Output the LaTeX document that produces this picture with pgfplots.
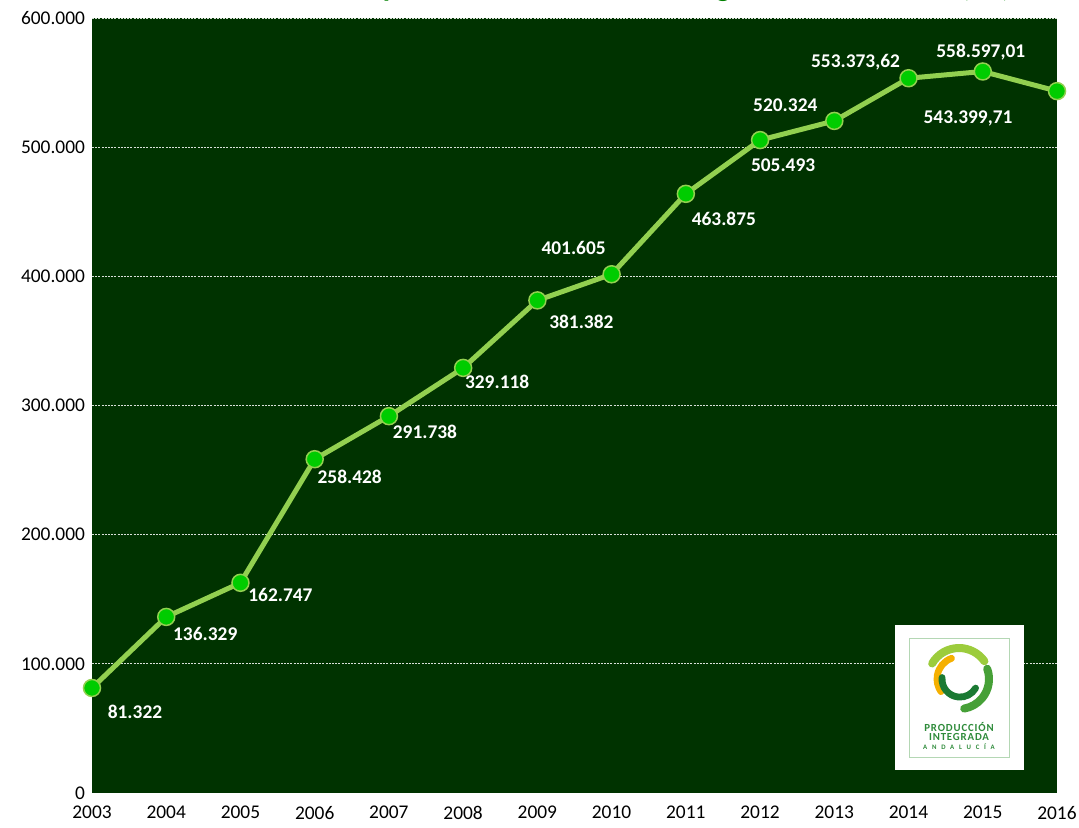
\documentclass[border=0pt]{standalone}
\usepackage{fontspec}
\setmainfont{Carlito}
\usepackage{pgfplots}
\pgfplotsset{compat=1.18}
\usepackage{pgfplotstable}
\definecolor{bg}{RGB}{0,51,0}
\definecolor{linegreen}{RGB}{146,208,80}
\definecolor{markgreen}{RGB}{0,204,0}
\definecolor{titlegreen}{RGB}{0,128,0}
\definecolor{logoyellow}{RGB}{245,176,0}
\definecolor{logolight}{RGB}{156,204,60}
\definecolor{logomid}{RGB}{70,160,55}
\definecolor{logodark}{RGB}{27,122,51}
\definecolor{logotext}{RGB}{46,139,58}
\definecolor{logoframe}{RGB}{180,215,180}

\pgfplotstableread{
year value label dx dy
2003 81322 81.322 21.5 -12
2004 136329 136.329 19.5 -8.5
2005 162747 162.747 20 -6
2006 258428 258.428 17.5 -9
2007 291738 291.738 18 -8
2008 329118 329.118 17 -7
2009 381382 381.382 22 -10.5
2010 401605 401.605 -19 13
2011 463875 463.875 19 -12.5
2012 505493 505.493 11.5 -12.5
2013 520324 520.324 -24.5 8
2014 553373.62 553.373,62 -26.5 8
2015 558597.01 558.597,01 -1 9.5
2016 543399.71 543.399,71 -44.5 -13.5
}\datatable

\begin{document}
\begin{tikzpicture}
\begin{axis}[
  at={(0,0)}, anchor=south west,
  scale only axis,
  width=482.5pt, height=387.5pt,
  xmin=2003, xmax=2016,
  ymin=0, ymax=600000,
  xtick={2003,...,2016},
  ytick={0,100000,...,600000},
  scaled y ticks=false,
  clip=false,
  axis background/.style={fill=bg},
  axis line style={draw=none},
  major tick length=0pt,
  ymajorgrids,
  major grid style={white, opacity=0.85, line width=0.35pt, dash pattern=on 1pt off 0.6pt},
  tick label style={font=\fontsize{9.7}{11}\selectfont, text=black},
  /pgf/number format/assume math mode=true,
  yticklabel style={/pgf/number format/.cd, fixed, 1000 sep={.}},
  xticklabel style={yshift=-3pt, /pgf/number format/.cd, 1000 sep={}},
]
\addplot[
  color=linegreen, line width=2.5pt,
  mark=*, mark size=4.25pt,
  mark options={fill=markgreen, draw=linegreen, line width=0.75pt},
  point meta=explicit symbolic,
  visualization depends on={\thisrow{dx}\as\dx},
  visualization depends on={\thisrow{dy}\as\dy},
  nodes near coords,
  every node near coord/.append style={anchor=center, xshift=\dx pt, yshift=\dy pt,
    text=white, font=\bfseries\fontsize{9.7}{11}\selectfont},
] table[x=year, y=value, meta=label] {\datatable};
\end{axis}

% title (clipped at the top of the page)
\node[anchor=base, font=\bfseries\fontsize{15}{17}\selectfont, text=titlegreen, inner sep=0pt]
  at (247pt,398.1pt) {Evolución de la superficie en Producción Integrada en Andalucía (ha)};

% logo
\fill[white] (401.5pt,11.5pt) rectangle (466pt,84pt);
\draw[logoframe, line width=0.5pt] (408.5pt,18pt) rectangle (458.5pt,77.5pt);
\begin{scope}[shift={(433.5pt,57pt)}, line cap=round]
  \draw[logolight, line width=4pt] (150:15.5pt) arc[start angle=150, end angle=35, radius=15.5pt];
  \draw[logomid, line width=4pt] (20:15pt) arc[start angle=20, end angle=-80, radius=15pt];
  \draw[logoyellow, line width=3.4pt] (110:11pt) arc[start angle=110, end angle=215, radius=11pt];
  \draw[logodark, line width=3.4pt] (175:8.5pt) arc[start angle=175, end angle=330, radius=9pt];
\end{scope}
\node[text=logotext, font=\bfseries\fontsize{5.4}{6}\selectfont\addfontfeature{LetterSpace=8}, inner sep=0pt] at (433.5pt,32.8pt) {PRODUCCIÓN};
\node[text=logotext, font=\bfseries\fontsize{5.4}{6}\selectfont\addfontfeature{LetterSpace=8}, inner sep=0pt] at (433.5pt,27.8pt) {INTEGRADA};
\node[text=logotext, font=\bfseries\fontsize{3.4}{4}\selectfont\addfontfeature{LetterSpace=70}, inner sep=0pt] at (433.5pt,23pt) {ANDALUCÍA};

\pgfresetboundingbox
\useasboundingbox (-46pt,-17pt) rectangle (493.5pt,396.5pt);
\end{tikzpicture}
\end{document}
